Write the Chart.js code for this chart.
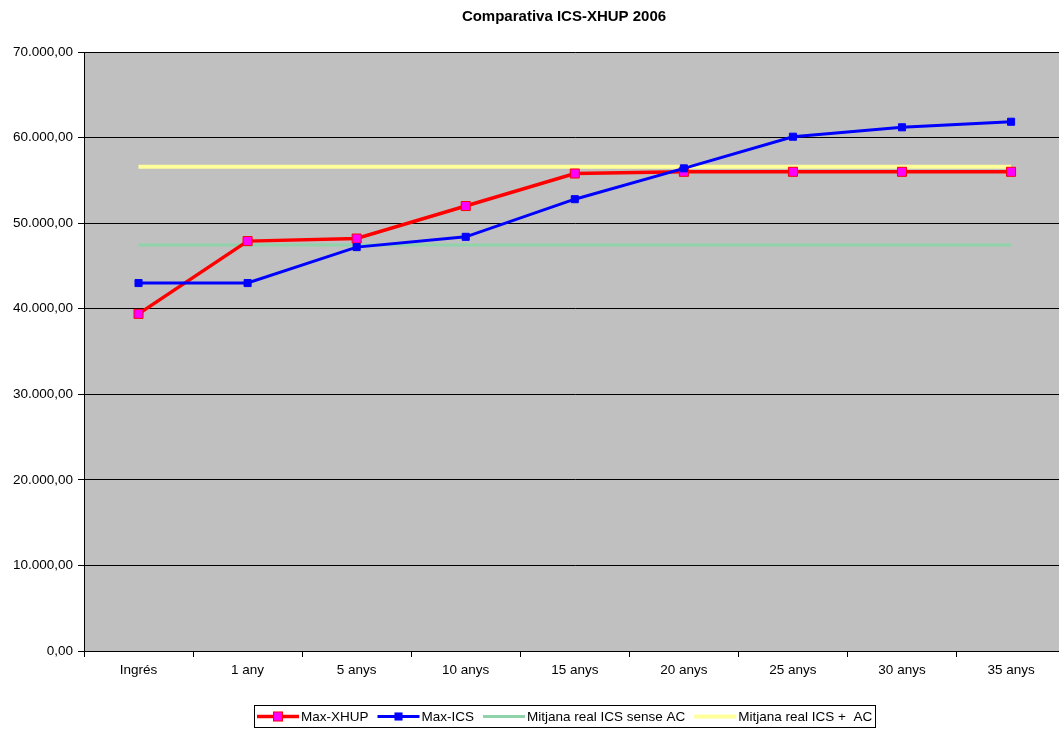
<!DOCTYPE html>
<html>
<head>
<meta charset="utf-8">
<script src="https://cdn.jsdelivr.net/npm/chart.js@4/dist/chart.umd.min.js"></script>
<style>
  body { margin: 0; overflow: hidden; background: #fff; }
  #wrap { width: 1073px; height: 729px; }
</style>
</head>
<body>
<div id="wrap"><canvas id="lineChart" width="1073" height="729"></canvas></div>
<script>
// categories and values
const categories = ['Ingrés', '1 any', '5 anys', '10 anys', '15 anys', '20 anys', '25 anys', '30 anys', '35 anys']
const maxXhup = [39400, 47900, 48200, 52000, 55800, 56000, 56000, 56000, 56000]
const maxIcs = [43000, 43000, 47200, 48400, 52800, 56400, 60100, 61200, 61850]
const mitjanaSenseAC = [47450, 47450, 47450, 47450, 47450, 47450, 47450, 47450, 47450]
const mitjanaAmbAC = [56600, 56600, 56600, 56600, 56600, 56600, 56600, 56600, 56600]
const yTicks = [0, 10000, 20000, 30000, 40000, 50000, 60000, 70000]

const FONT = 'Arial, "Liberation Sans", sans-serif'

//format numbers like 70.000,00
function formatNum(v) {
    const int = Math.round(v).toString().replace(/\B(?=(\d{3})+(?!\d))/g, '.')
    return int + ',00'
}

//draws the title and the boxed legend
const excelDecor = {
    id: 'excelDecor',
    afterDraw(chart) {
        const ctx = chart.ctx
        ctx.save()
        ctx.fillStyle = '#000'
        ctx.font = 'bold 15px ' + FONT
        ctx.textAlign = 'center'
        ctx.textBaseline = 'middle'
        ctx.fillText('Comparativa ICS-XHUP 2006', 564, 17)

        //legend box
        ctx.fillStyle = '#fff'
        ctx.fillRect(254.5, 705.5, 621, 22)
        ctx.strokeStyle = '#000'
        ctx.lineWidth = 1
        ctx.strokeRect(254.5, 705.5, 621, 22)

        ctx.font = '13.5px ' + FONT
        ctx.textAlign = 'left'
        let x = 257
        const y = 716.5
        chart.data.datasets.forEach(ds => {
            ctx.strokeStyle = ds.borderColor
            ctx.lineWidth = ds.borderWidth
            ctx.beginPath()
            ctx.moveTo(x, y)
            ctx.lineTo(x + 42, y)
            ctx.stroke()
            if (ds.pointRadius > 0) {
                const h = ds.pointRadius * Math.SQRT1_2
                ctx.fillStyle = ds.pointBackgroundColor
                ctx.fillRect(x + 21 - h, y - h, 2 * h, 2 * h)
                ctx.strokeStyle = ds.pointBorderColor
                ctx.lineWidth = 1
                ctx.strokeRect(x + 21 - h, y - h, 2 * h, 2 * h)
            }
            ctx.fillStyle = '#000'
            ctx.fillText(ds.label, x + 44, y + 1)
            x += 44 + ctx.measureText(ds.label).width + 9
        })
        ctx.restore()
    }
}

//grey plot area
const plotBg = {
    id: 'plotBg',
    beforeDraw(chart) {
        const a = chart.chartArea
        chart.ctx.save()
        chart.ctx.fillStyle = '#C0C0C0'
        chart.ctx.fillRect(a.left, a.top, a.right - a.left, a.bottom - a.top)
        chart.ctx.restore()
    }
}

new Chart('lineChart', {
    type: 'line',
    data: {
        labels: categories,
        datasets: [{
            label: 'Max-XHUP',
            data: maxXhup,
            borderColor: '#FF0000',
            borderWidth: 3.5,
            pointStyle: 'rect',
            pointRadius: 6.4,
            pointBackgroundColor: '#FF00FF',
            pointBorderColor: '#FF0000',
            pointBorderWidth: 1,
            order: 1
        }, {
            label: 'Max-ICS',
            data: maxIcs,
            borderColor: '#0000FF',
            borderWidth: 3,
            pointStyle: 'rect',
            pointRadius: 5,
            pointBackgroundColor: '#0000FF',
            pointBorderColor: '#0000FF',
            pointBorderWidth: 1,
            order: 0
        }, {
            label: 'Mitjana real ICS sense AC',
            data: mitjanaSenseAC,
            borderColor: '#8FD3AA',
            borderWidth: 3,
            pointRadius: 0,
            order: 3
        }, {
            label: 'Mitjana real ICS +  AC',
            data: mitjanaAmbAC,
            borderColor: '#FFFF99',
            borderWidth: 4,
            pointRadius: 0,
            order: 2
        }]
    },
    options: {
        responsive: false,
        animation: false,
        layout: { padding: { top: 52, right: 1, bottom: 0, left: 0 } },
        scales: {
            x: {
                offset: true,
                afterFit: s => { s.height = 78 },
                grid: { drawOnChartArea: false, offset: true, tickLength: 6, color: '#000' },
                border: { color: '#000', width: 1 },
                ticks: { color: '#000', font: { family: FONT, size: 13.5 }, padding: 5, maxRotation: 0 }
            },
            y: {
                min: 0,
                max: 70000,
                afterFit: s => { s.width = 84 },
                afterBuildTicks: s => { s.ticks = yTicks.map(v => ({ value: v })) },
                grid: { color: '#000', tickLength: 6 },
                border: { color: '#000', width: 1 },
                ticks: {
                    color: '#000',
                    font: { family: FONT, size: 13.5 },
                    padding: 5,
                    callback: v => formatNum(v)
                }
            }
        },
        plugins: {
            legend: { display: false },
            title: { display: false },
            tooltip: { enabled: false }
        }
    },
    plugins: [plotBg, excelDecor]
})
</script>
</body>
</html>
